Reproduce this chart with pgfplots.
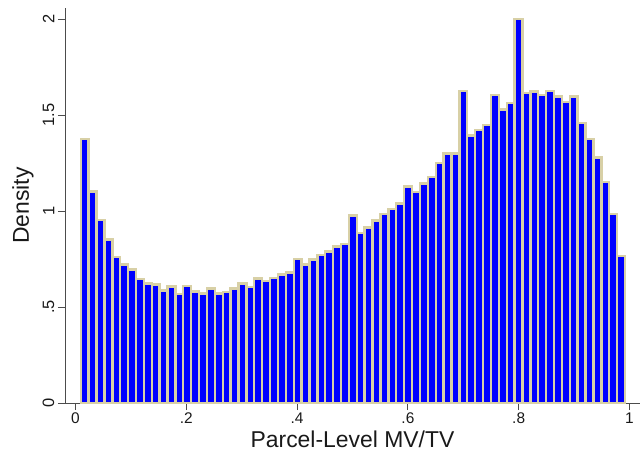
\documentclass[border=0pt]{standalone}
\usepackage{pgfplots}
\pgfplotsset{compat=1.18}
\usepackage{pgfplotstable}
\usepackage{fontspec}
\setmainfont{Liberation Sans}
\definecolor{barblue}{RGB}{0,0,255}
\definecolor{bartan}{RGB}{216,208,166}
\pgfplotstableread{
x y
0.0094 1.374
0.0236 1.101
0.0379 0.952
0.0521 0.851
0.0664 0.761
0.0806 0.721
0.0948 0.696
0.1091 0.646
0.1233 0.623
0.1376 0.617
0.1518 0.585
0.1660 0.606
0.1803 0.568
0.1945 0.608
0.2088 0.580
0.2230 0.571
0.2372 0.596
0.2515 0.571
0.2657 0.577
0.2800 0.597
0.2942 0.623
0.3084 0.604
0.3227 0.649
0.3369 0.634
0.3512 0.650
0.3654 0.670
0.3796 0.679
0.3939 0.751
0.4081 0.722
0.4224 0.748
0.4366 0.771
0.4508 0.788
0.4651 0.816
0.4793 0.827
0.4936 0.976
0.5078 0.884
0.5220 0.913
0.5363 0.950
0.5505 0.983
0.5648 1.009
0.5790 1.038
0.5932 1.128
0.6075 1.099
0.6217 1.144
0.6360 1.177
0.6502 1.250
0.6644 1.299
0.6787 1.299
0.6929 1.625
0.7072 1.393
0.7214 1.422
0.7356 1.448
0.7499 1.603
0.7641 1.528
0.7784 1.563
0.7926 1.999
0.8068 1.613
0.8211 1.622
0.8353 1.604
0.8496 1.625
0.8638 1.597
0.8780 1.566
0.8923 1.597
0.9065 1.457
0.9208 1.374
0.9350 1.278
0.9492 1.151
0.9635 0.983
0.9777 0.766
0.9920 0.766
}\histdata
\begin{document}
\begin{tikzpicture}
\begin{axis}[
  name=ax,
  scale only axis,
  width=575bp, height=395bp,
  xmin=-0.019, xmax=1.019,
  ymin=0, ymax=2.057,
  axis x line*=bottom,
  axis y line*=left,
  axis line style={black!70, line width=0.8bp},
  tick style={black!70, line width=0.8bp},
  tick align=outside,
  major tick length=7bp,
  xtick={0,0.2,0.4,0.6,0.8,1},
  xticklabels={0,.2,.4,.6,.8,1},
  ytick={0,0.5,1,1.5,2},
  yticklabels={0,.5,1,1.5,2},
  /pgf/number format/assume math mode=true,
  xticklabel style={font=\fontsize{15.5}{18}\selectfont, black!90, inner sep=2.5bp},
  yticklabel style={font=\fontsize{16.5}{19}\selectfont, black!90, rotate=90, anchor=south, inner sep=3.5bp},
  xlabel={Parcel-Level MV/TV},
  ylabel={Density},
  label style={font=\fontsize{23}{26}\selectfont, black!90},
  xlabel style={at={(axis description cs:0.5,0)}, anchor=base, yshift=-44bp, inner sep=0pt},
  ylabel style={yshift=2bp},
  clip=false,
]
\addplot[ybar interval, fill=barblue, draw=bartan, line width=2.4bp] table[x=x,y=y] {\histdata};
\end{axis}
\pgfresetboundingbox
\path[use as bounding box] ([xshift=-65bp,yshift=-48bp]ax.south west) rectangle ([xshift=2bp,yshift=8bp]ax.north east);
\end{tikzpicture}
\end{document}
